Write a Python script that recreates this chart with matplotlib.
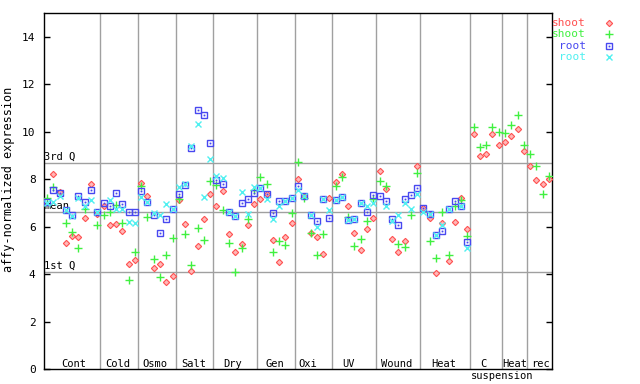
import numpy as np
import matplotlib
matplotlib.use("Agg")
import matplotlib.pyplot as plt
from matplotlib.lines import Line2D

nan = np.nan

# group labels along the bottom and number of samples per group
groups = ["Cont", "Cold", "Osmo", "Salt", "Dry", "Gen", "Oxi", "UV", "Wound", "Heat", "C", "Heat", "rec"]
group_sizes = [9, 6, 6, 6, 7, 6, 6, 7, 7, 8, 5, 4, 4]
label_x = [4.3, 11.3, 17.2, 23.3, 29.6, 36.3, 41.6, 48.1, 55.8, 63.3, 69.6, 74.5, 78.7]

# reference lines
q3 = 8.68
mean_val = 6.61
q1 = 4.08

shoot_red = [nan, 8.21, 7.45, 5.33, 5.60, 5.58, 6.36, 7.81, 6.55,
             6.88, 6.06, 6.12, 5.81, 4.42, 4.59,
             7.83, 7.27, 4.25, 4.42, 3.66, 3.92,
             7.10, 6.10, 4.12, 5.19, 6.32, 7.37,
             6.88, 7.51, 5.70, 4.95, 5.27, 6.06, 6.95,
             7.16, 7.37, 5.44, 4.50, 5.57, 6.15,
             8.00, 7.31, 5.72, 5.57, 4.84, 7.20,
             7.90, 8.23, 6.85, 5.72, 5.01, 5.89, 6.36,
             8.33, 7.58, 5.47, 4.92, 5.40, nan, 8.57,
             6.79, 6.36, 4.04, 6.17, 4.54, 6.19, 7.20, 5.89,
             9.92, 8.99, 9.07, 9.92, 9.45,
             9.56, 9.83, 10.11, 9.20,
             8.57, 7.97, 7.79, 8.00]

shoot_green = [7.20, 7.67, nan, 6.15, 5.77, 5.09, 6.74, nan, 6.06,
               6.50, 6.61, 6.91, 6.15, 3.75, 4.95,
               7.73, 6.40, 4.63, 3.87, 4.80, 5.51,
               7.17, 5.68, 4.39, 5.94, 5.43, 7.92,
               7.76, 6.71, 5.30, 4.08, 5.09, 6.33, 7.55,
               8.09, 7.81, 4.92, 5.39, 5.22, 6.57,
               8.72, 7.19, 5.72, 4.81, 5.68, nan,
               7.73, 8.09, 6.40, 5.19, 5.47, 6.22, 7.16,
               7.93, 7.72, nan, 5.26, 5.13, 6.48, 8.26,
               nan, 5.39, 4.67, 6.61, 4.81, 6.85, 7.10, 5.61,
               10.20, 9.35, 9.45, 10.20, 9.99,
               9.94, 10.30, 10.72, 9.45,
               9.07, 8.57, 7.37, 8.14]

root_blue = [7.05, 7.54, 7.41, 6.72, 6.48, 7.31, 7.03, 7.54, 6.62,
             6.99, 6.85, 7.41, 6.96, 6.61, 6.61,
             7.51, 7.02, 6.48, 5.72, 6.32, 6.74,
             7.37, 7.75, 9.31, 10.91, 10.70, 9.52,
             7.96, 7.79, 6.61, 6.46, 6.99, 7.16, 7.41,
             7.62, 7.37, 6.57, 7.09, 7.09, 7.19,
             7.71, 7.31, 6.50, 6.22, 7.16, 6.36,
             7.13, 7.23, 6.29, 6.32, 6.98, 6.61, 7.32,
             7.30, 7.09, 6.32, 6.06, 7.16, 7.32, 7.62,
             6.79, 6.53, 5.63, 5.81, 6.74, 7.07, 6.86, 5.35,
             nan, nan, nan, nan, nan,
             nan, nan, nan, nan,
             nan, nan, nan, nan]

root_cyan = [7.00, 7.02, 7.27, 6.72, 6.45, 7.22, 6.85, 7.13, 6.62,
             nan, 7.10, 6.76, 6.76, 6.20, 6.15,
             7.24, 7.02, 6.57, 6.50, 6.95, 6.74,
             7.67, 7.80, 9.38, 10.32, 7.24, 8.85,
             8.14, 8.03, 6.61, 6.46, 7.47, 6.53, 7.67,
             7.62, 7.16, 6.33, 6.85, 7.09, 7.19,
             7.55, 7.31, 6.50, 6.00, 7.16, 6.71,
             7.13, 7.23, 6.29, 6.32, 6.98, 6.88, 6.99,
             nan, 6.88, 6.22, 6.50, 6.99, 6.74, 7.38,
             6.60, 6.53, 5.63, 6.08, 6.74, nan, 6.86, 5.09,
             nan, nan, nan, nan, nan,
             nan, nan, nan, nan,
             nan, nan, nan, nan]

RED = "#ff5050"
GREEN = "#40f040"
BLUE = "#4848f0"
CYAN = "#50f0f0"
GRID = "#a0a0a0"

plt.rcParams["font.family"] = ["DejaVu Sans Mono"]
plt.rcParams["font.size"] = 7.5

n = len(shoot_red)
x = np.arange(n)

fig = plt.figure(figsize=(6.4, 3.84), dpi=100)
ax = fig.add_axes([44 / 640, 15 / 384, 508 / 640, 356 / 384])
ax.set_xlim(-0.5, n - 0.5)
ax.set_ylim(0, 15)

# group separators
edges = np.cumsum(group_sizes)[:-1] - 0.5
for e in edges:
    ax.axvline(e, color=GRID, lw=1.0, zorder=1)

# quartile / mean lines
for val, name in [(q3, "3rd Q"), (mean_val, "mean"), (q1, "1st Q")]:
    ax.axhline(val, color=GRID, lw=1.0, zorder=1)
    ax.text(-0.45, val + 0.05, name, ha="left", va="bottom", fontsize=7.5, zorder=2)

# group labels
for lx, g in zip(label_x, groups):
    ax.text(lx, 0.08, g, ha="center", va="baseline", fontsize=7.5)
ax.text(72.5, -0.08, "suspension", ha="center", va="top", fontsize=7.5, clip_on=False)

# the four series
ax.plot(x, shoot_red, ls="none", marker="D", ms=3.2, mfc="#ffb8b8", mec=RED, mew=0.8, zorder=3)
ax.plot(x, shoot_green, ls="none", marker="+", ms=5.5, mec=GREEN, mew=1.0, zorder=4)
ax.plot(x, root_blue, ls="none", marker="s", ms=4.2, mfc="none", mec=BLUE, mew=1.0, zorder=5)
ax.plot(x, root_blue, ls="none", marker="s", ms=0.9, mfc=BLUE, mec=BLUE, mew=0.3, zorder=5)
ax.plot(x, root_cyan, ls="none", marker="x", ms=4.0, mec=CYAN, mew=1.0, zorder=6)

ax.set_yticks(np.arange(0, 15, 2))
ax.set_xticks([])
ax.tick_params(axis="y", direction="in", length=4, width=1.0, right=True, labelsize=8, pad=6)
for s in ax.spines.values():
    s.set_linewidth(1.0)
    s.set_color("black")
ax.set_ylabel("affy-normalized expression", fontsize=8.5)
ax.yaxis.set_label_coords(-28.5 / 508, 0.534)

# legend on the right, text first then marker
leg_y = [23.3, 34.3, 45.7, 56.7]
leg_lbl = ["shoot", "shoot", "root", "root"]
leg_col = [RED, GREEN, BLUE, CYAN]
for i in range(4):
    yy = 1 - leg_y[i] / 384
    fig.text(586 / 640, yy, leg_lbl[i], color=leg_col[i], ha="right", va="center", fontsize=8)
mx = 609 / 640
fig.add_artist(Line2D([mx], [1 - leg_y[0] / 384], ls="none", marker="D", ms=3.2, mfc="#ffb8b8", mec=RED, mew=0.8, transform=fig.transFigure))
fig.add_artist(Line2D([mx], [1 - leg_y[1] / 384], ls="none", marker="+", ms=5.5, mec=GREEN, mew=1.0, transform=fig.transFigure))
fig.add_artist(Line2D([mx], [1 - leg_y[2] / 384], ls="none", marker="s", ms=4.2, mfc="none", mec=BLUE, mew=1.0, transform=fig.transFigure))
fig.add_artist(Line2D([mx], [1 - leg_y[2] / 384], ls="none", marker="s", ms=0.9, mfc=BLUE, mec=BLUE, mew=0.3, transform=fig.transFigure))
fig.add_artist(Line2D([mx], [1 - leg_y[3] / 384], ls="none", marker="x", ms=4.0, mec=CYAN, mew=1.0, transform=fig.transFigure))

fig.savefig("out.png", dpi=100)
